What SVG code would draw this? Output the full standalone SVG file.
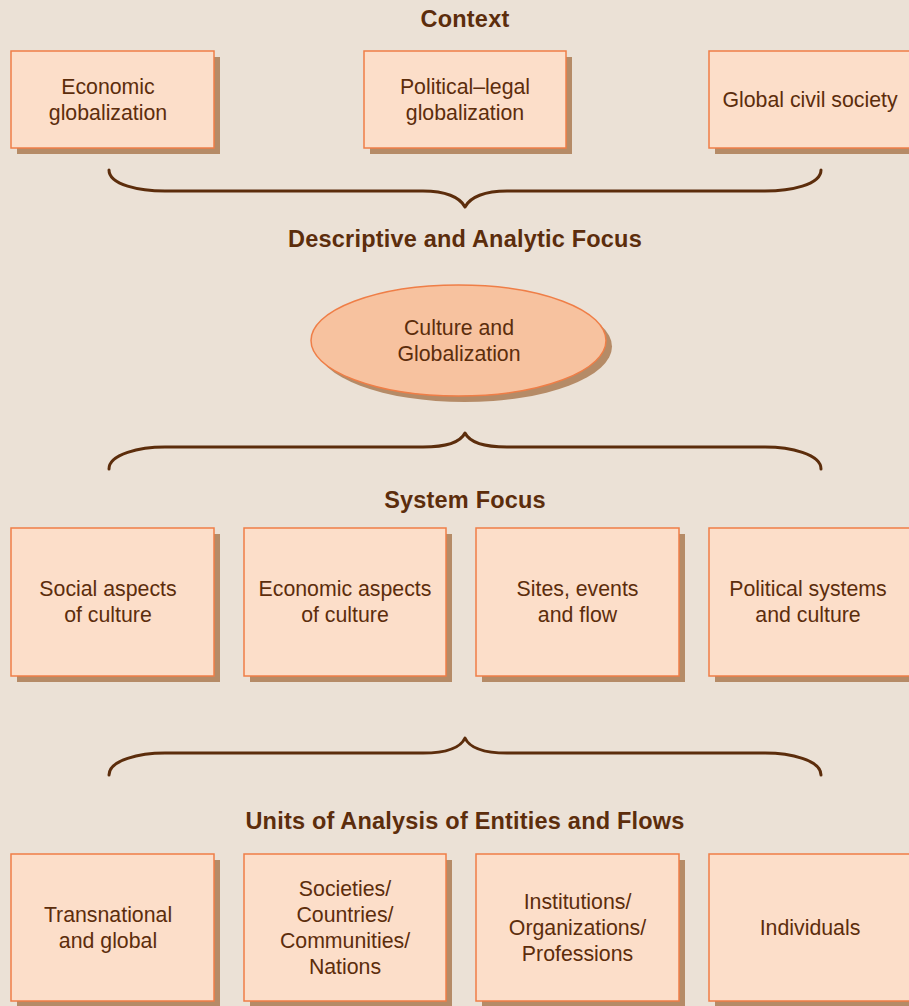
<svg xmlns="http://www.w3.org/2000/svg" width="909" height="1006" viewBox="0 0 909 1006">
<style>
.bg{fill:#ebe1d6}
.sh{fill:#b58b67}
.bx{fill:#fcdec9;stroke:#ef7e47;stroke-width:1.5}
.el{fill:#f7c29f;stroke:#ef7e47;stroke-width:1.5}
text{font-family:"Liberation Sans",Arial,sans-serif;fill:#5c2d0c;text-anchor:middle}
.t{font-size:21.3px}
.h{font-size:23.5px;font-weight:bold;letter-spacing:0.2px}
.br{fill:none;stroke:#5c2d0c;stroke-width:3;stroke-linecap:round;stroke-linejoin:round}
</style>
<rect class="bg" x="0" y="0" width="909" height="1006"/>
<g id="titles">
<text class="h" x="465" y="27">Context</text>
<text class="h" x="465" y="247">Descriptive and Analytic Focus</text>
<text class="h" x="465" y="508">System Focus</text>
<text class="h" x="465" y="829">Units of Analysis of Entities and Flows</text>
</g>
<g id="connectors">
<path class="br" d="M109,170 C109,185 140,191 165,191 L423,191 C445,191 460,197 465,207 C470,197 485,191 507,191 L765,191 C790,191 821,185 821,170"/>
<path class="br" d="M109,469 C109,454 140,447 165,447 L423,447 C445,447 460,443 465,433 C470,443 485,447 507,447 L765,447 C790,447 821,454 821,469"/>
<path class="br" d="M109,775 C109,760 140,753 165,753 L423,753 C445,753 460,749 465,738 C470,749 485,753 507,753 L765,753 C790,753 821,760 821,775"/>
</g>
<g id="n-economic">
<rect class="sh" x="17" y="57" width="203" height="97"/>
<rect class="bx" x="11" y="51" width="203" height="97"/>
<text class="t" x="108" y="93.5">Economic</text>
<text class="t" x="108" y="119.5">globalization</text>
</g>
<g id="n-political">
<rect class="sh" x="370" y="57" width="202" height="97"/>
<rect class="bx" x="364" y="51" width="202" height="97"/>
<text class="t" x="465" y="93.5">Political–legal</text>
<text class="t" x="465" y="119.5">globalization</text>
</g>
<g id="n-civil">
<rect class="sh" x="715" y="57" width="203" height="97"/>
<rect class="bx" x="709" y="51" width="203" height="97"/>
<text class="t" x="810" y="106.5">Global civil society</text>
</g>
<g id="n-culture">
<ellipse class="sh" cx="464.5" cy="346.5" rx="147.5" ry="55.5"/>
<ellipse class="el" cx="458.5" cy="340.5" rx="147.5" ry="55.5"/>
<text class="t" x="459" y="334.5">Culture and</text>
<text class="t" x="459" y="360.5">Globalization</text>
</g>
<g id="n-social">
<rect class="sh" x="17" y="534" width="203" height="148"/>
<rect class="bx" x="11" y="528" width="203" height="148"/>
<text class="t" x="108" y="596">Social aspects</text>
<text class="t" x="108" y="622">of culture</text>
</g>
<g id="n-econ-aspects">
<rect class="sh" x="250" y="534" width="202" height="148"/>
<rect class="bx" x="244" y="528" width="202" height="148"/>
<text class="t" x="345" y="596">Economic aspects</text>
<text class="t" x="345" y="622">of culture</text>
</g>
<g id="n-sites">
<rect class="sh" x="482" y="534" width="203" height="148"/>
<rect class="bx" x="476" y="528" width="203" height="148"/>
<text class="t" x="577.5" y="596">Sites, events</text>
<text class="t" x="577.5" y="622">and flow</text>
</g>
<g id="n-polsys">
<rect class="sh" x="715" y="534" width="203" height="148"/>
<rect class="bx" x="709" y="528" width="203" height="148"/>
<text class="t" x="808" y="596">Political systems</text>
<text class="t" x="808" y="622">and culture</text>
</g>
<g id="n-transnational">
<rect class="sh" x="17" y="860" width="203" height="147"/>
<rect class="bx" x="11" y="854" width="203" height="147"/>
<text class="t" x="108" y="921.5">Transnational</text>
<text class="t" x="108" y="947.5">and global</text>
</g>
<g id="n-societies">
<rect class="sh" x="250" y="860" width="202" height="147"/>
<rect class="bx" x="244" y="854" width="202" height="147"/>
<text class="t" x="345" y="895.5">Societies/</text>
<text class="t" x="345" y="921.5">Countries/</text>
<text class="t" x="345" y="947.5">Communities/</text>
<text class="t" x="345" y="973.5">Nations</text>
</g>
<g id="n-institutions">
<rect class="sh" x="482" y="860" width="203" height="147"/>
<rect class="bx" x="476" y="854" width="203" height="147"/>
<text class="t" x="577.5" y="908.5">Institutions/</text>
<text class="t" x="577.5" y="934.5">Organizations/</text>
<text class="t" x="577.5" y="960.5">Professions</text>
</g>
<g id="n-individuals">
<rect class="sh" x="715" y="860" width="203" height="147"/>
<rect class="bx" x="709" y="854" width="203" height="147"/>
<text class="t" x="810" y="934.5">Individuals</text>
</g>
</svg>
